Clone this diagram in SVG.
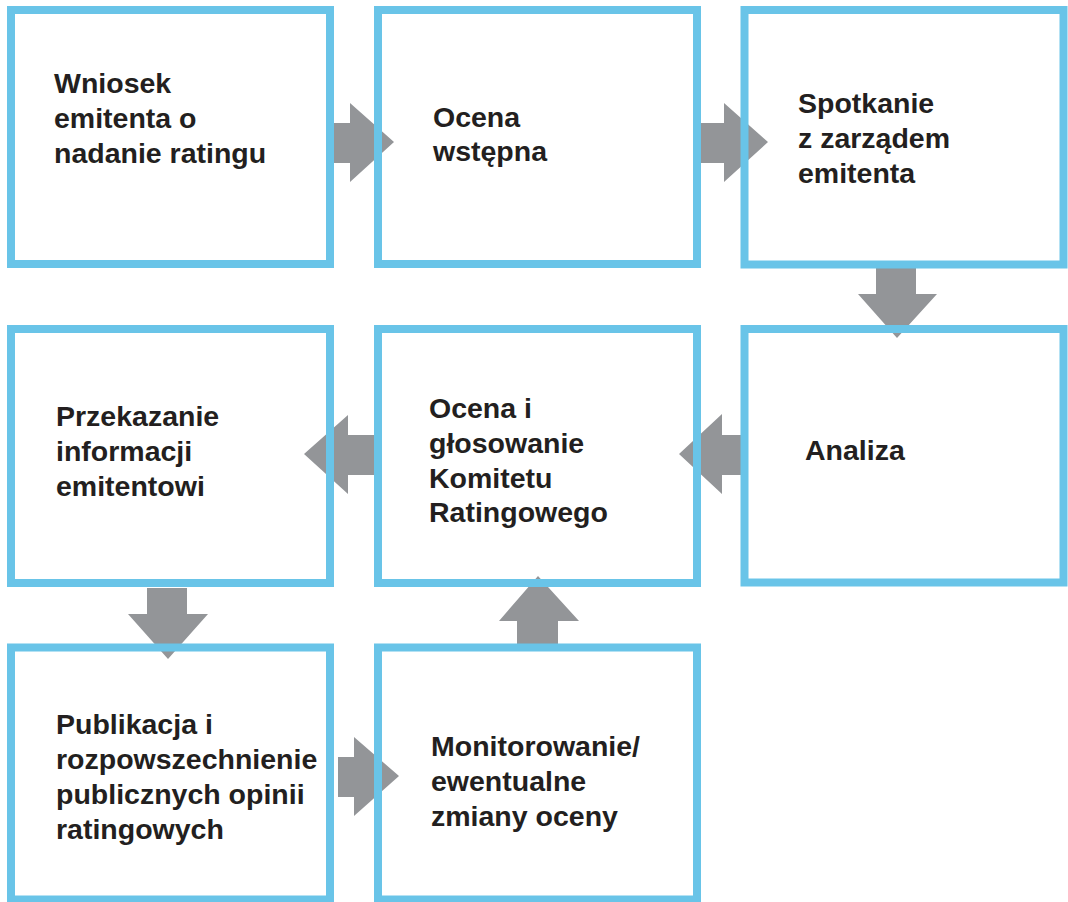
<svg xmlns="http://www.w3.org/2000/svg" width="1068" height="902" viewBox="0 0 1068 902">
<style>
.box{fill:none;stroke:#69c4e8;stroke-width:8}
.arr{fill:#939598}
.t{font-family:"Liberation Sans",Arial,sans-serif;font-weight:bold;font-size:28.5px;fill:#231f20}
</style>
<rect width="1068" height="902" fill="#ffffff"/>
<g id="connectors">
<polygon class="arr" points="333,123 350,123 350,103 394,142 350,182 350,163 333,163"/>
<polygon class="arr" points="700,123 724,123 724,103 768,142 724,182 724,163 700,163"/>
<polygon class="arr" points="876,268 916,268 916,294 937,294 897,338 858,294 876,294"/>
<polygon class="arr" points="741,435 722,435 722,414 679,454 722,494 722,475 741,475"/>
<polygon class="arr" points="374,435 348,435 348,415 304,454 348,494 348,475 374,475"/>
<polygon class="arr" points="147,588 187,588 187,614 208,614 168,659 128,614 147,614"/>
<polygon class="arr" points="338,757 354,757 354,737 399,776 354,816 354,797 338,797"/>
<polygon class="arr" points="517,644 558,644 558,621 579,621 538,576 499,621 517,621"/>
</g>
<g id="n1"><rect class="box" x="11" y="10" width="319" height="254"/>
<text class="t" x="54" y="93">Wniosek</text><text class="t" x="54" y="128">emitenta o</text><text class="t" x="54" y="163">nadanie ratingu</text></g>
<g id="n2"><rect class="box" x="378" y="10" width="319" height="254"/>
<text class="t" x="433" y="127">Ocena</text><text class="t" x="433" y="161">wstępna</text></g>
<g id="n3"><rect class="box" x="744.5" y="10" width="319" height="254.5"/>
<text class="t" x="798" y="113">Spotkanie</text><text class="t" x="798" y="148">z zarządem</text><text class="t" x="798" y="183">emitenta</text></g>
<g id="n4"><rect class="box" x="11" y="329" width="319" height="254"/>
<text class="t" x="56" y="426">Przekazanie</text><text class="t" x="56" y="461">informacji</text><text class="t" x="56" y="496">emitentowi</text></g>
<g id="n5"><rect class="box" x="378" y="329" width="319" height="254"/>
<text class="t" x="429" y="418">Ocena i</text><text class="t" x="429" y="453">głosowanie</text><text class="t" x="429" y="488">Komitetu</text><text class="t" x="429" y="522">Ratingowego</text></g>
<g id="n6"><rect class="box" x="744.5" y="329" width="319" height="253.5"/>
<text class="t" x="805" y="460">Analiza</text></g>
<g id="n7"><rect class="box" x="11" y="647.5" width="319" height="252"/>
<text class="t" x="56" y="734">Publikacja i</text><text class="t" x="56" y="769">rozpowszechnienie</text><text class="t" x="56" y="804">publicznych opinii</text><text class="t" x="56" y="839">ratingowych</text></g>
<g id="n8"><rect class="box" x="378" y="647.5" width="319" height="252"/>
<text class="t" x="431" y="756">Monitorowanie/</text><text class="t" x="431" y="791">ewentualne</text><text class="t" x="431" y="826">zmiany oceny</text></g>
</svg>
